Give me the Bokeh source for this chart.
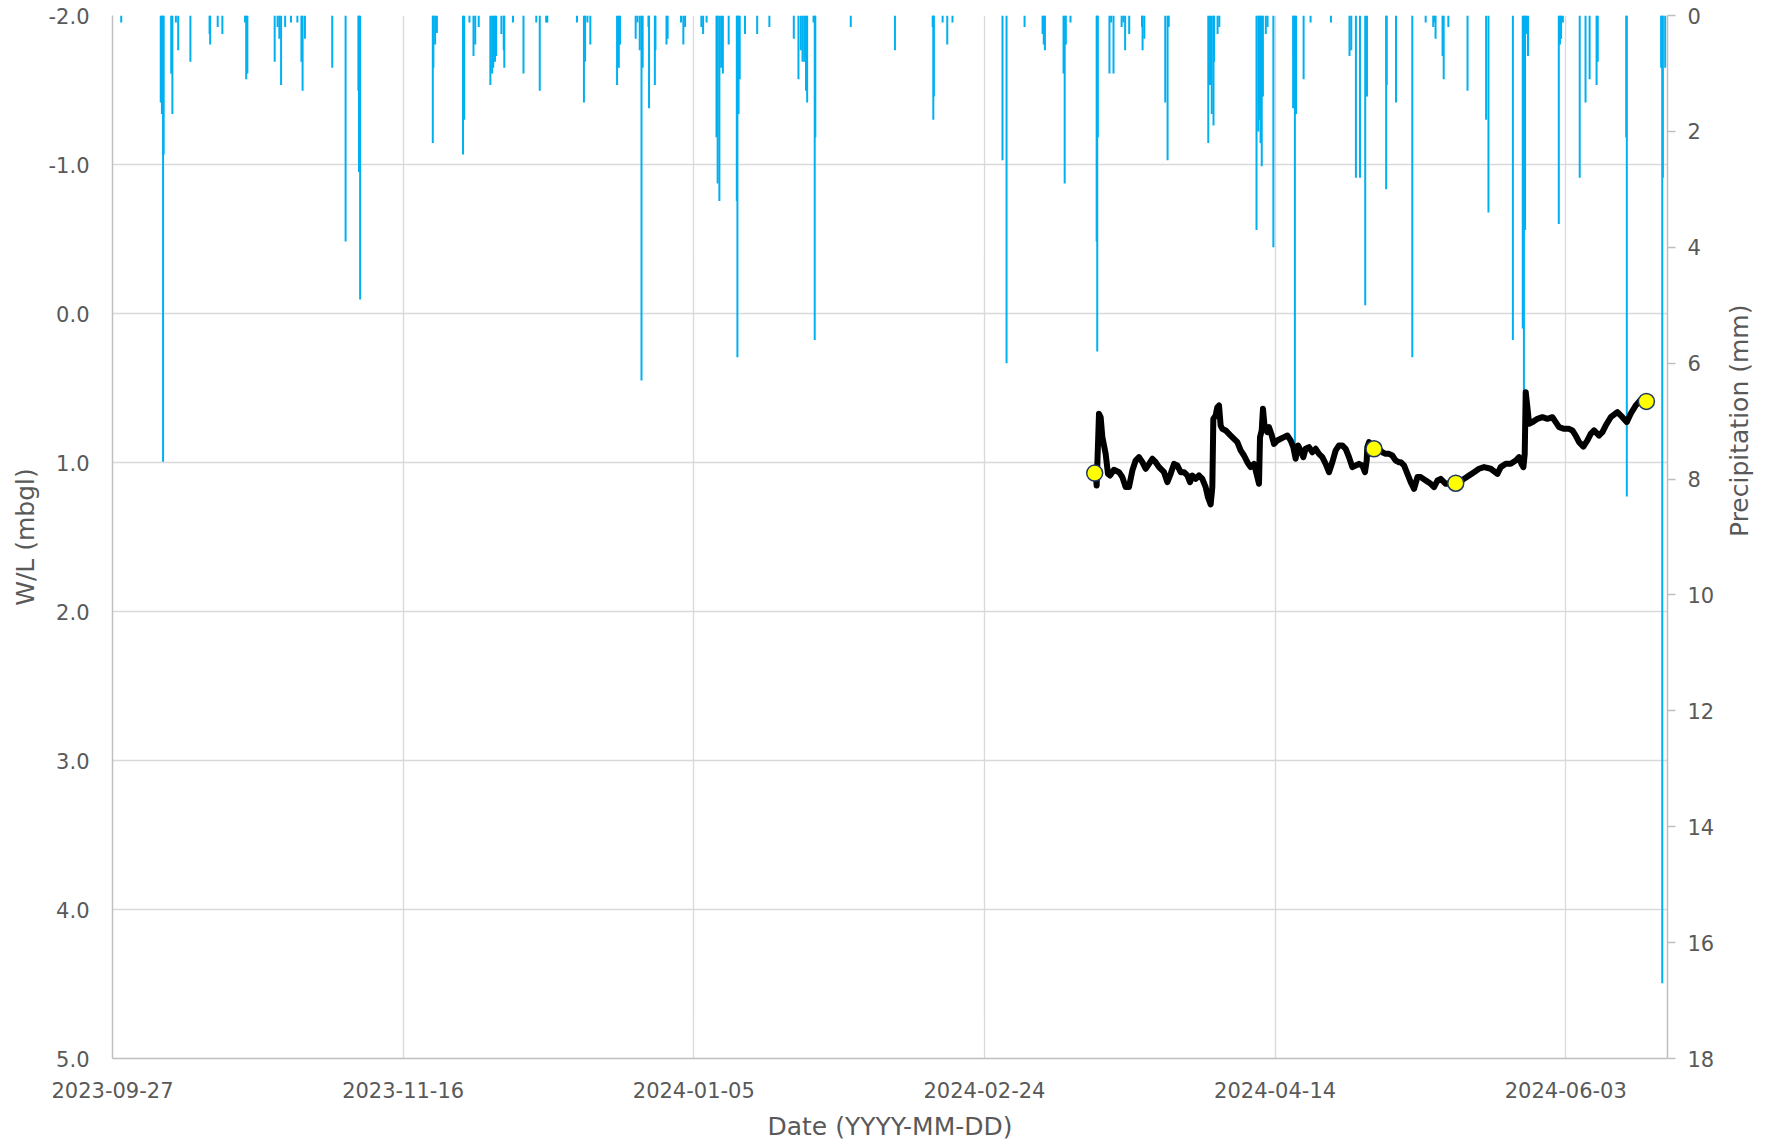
import math
import pandas as pd
from bokeh.plotting import figure
from bokeh.models import (Range1d, LinearAxis, FixedTicker, DatetimeTickFormatter,
                          PrintfTickFormatter, ColumnDataSource)
from bokeh.embed import file_html
from bokeh.resources import INLINE

# ---------------- data ----------------
origin = "2023-09-27"
x_end_days = 267.5
date_ticks = ["2023-09-27", "2023-11-16", "2024-01-05", "2024-02-24", "2024-04-14", "2024-06-03"]
wl_ticks = [-2, -1, 0, 1, 2, 3, 4, 5]
precip_ticks = [0, 2, 4, 6, 8, 10, 12, 14, 16, 18]

# continuous water level (days since origin, m below ground level)
wl_days = [168.96, 169.13, 169.30, 169.70, 169.99, 170.28, 170.85, 171.25, 171.60, 172.28, 173.15,
           173.72, 174.29, 174.86, 175.44, 176.01, 176.58, 177.16, 177.73, 178.31, 178.88, 179.45,
           180.03, 180.89, 181.46, 182.03, 182.61, 183.18, 183.75, 184.33, 184.90, 185.36, 185.76,
           186.33, 186.91, 187.48, 188.05, 188.45, 188.91, 189.20, 189.37, 189.77, 190.06, 190.35,
           190.63, 190.92, 191.49, 192.35, 192.93, 193.50, 194.07, 194.65, 195.22, 195.79, 196.37,
           196.94, 197.23, 197.40, 197.69, 197.91, 198.20, 198.66, 198.95, 199.35, 199.81, 200.38,
           200.95, 201.53, 202.10, 202.67, 203.13, 203.53, 203.94, 204.39, 204.85, 205.25, 205.83,
           206.40, 206.98, 207.55, 208.12, 208.70, 209.27, 209.84, 210.42, 210.99, 211.56, 212.14,
           212.71, 213.28, 213.86, 214.43, 215.00, 215.46, 215.75, 215.86, 216.15, 217.01, 217.87,
           218.44, 219.02, 219.59, 220.16, 220.74, 221.31, 221.61, 222.18, 222.76, 223.33, 223.90,
           224.48, 225.05, 225.91, 226.77, 227.34, 227.92, 228.49, 229.35, 231.07, 232.50, 233.36,
           234.22, 235.08, 235.94, 237.09, 238.24, 238.81, 239.67, 240.53, 241.39, 241.97, 242.37,
           242.71, 242.94, 243.11, 243.40, 243.69, 244.26, 245.12, 245.98, 246.84, 247.70, 248.27,
           248.85, 249.71, 250.57, 251.14, 251.71, 252.29, 253.03, 253.72, 254.29, 254.87, 255.73,
           256.30, 256.87, 257.73, 258.88, 259.74, 260.49, 261.17, 262.03, 262.90, 263.87]
wl_mbgl = [1.071, 1.076, 1.154, 0.673, 0.696, 0.830, 0.942, 1.076, 1.087, 1.049, 1.065,
           1.098, 1.165, 1.165, 1.054, 0.987, 0.964, 0.998, 1.042, 1.009, 0.975, 0.998,
           1.031, 1.065, 1.132, 1.076, 1.009, 1.020, 1.065, 1.065, 1.087, 1.132, 1.087,
           1.110, 1.087, 1.110, 1.165, 1.233, 1.282, 1.165, 0.707, 0.684, 0.629, 0.617,
           0.752, 0.774, 0.785, 0.819, 0.841, 0.863, 0.919, 0.953, 0.998, 1.031, 1.009,
           1.098, 1.143, 0.830, 0.785, 0.640, 0.763, 0.796, 0.763, 0.808, 0.875, 0.852,
           0.841, 0.830, 0.819, 0.852, 0.897, 0.975, 0.886, 0.919, 0.964, 0.908, 0.897,
           0.931, 0.908, 0.942, 0.964, 1.009, 1.065, 0.998, 0.919, 0.886, 0.886, 0.908,
           0.964, 1.031, 1.020, 1.009, 1.020, 1.065, 0.987, 0.897, 0.863, 0.908, 0.908,
           0.931, 0.942, 0.942, 0.953, 0.987, 0.998, 0.998, 1.020, 1.076, 1.132, 1.177,
           1.098, 1.098, 1.121, 1.143, 1.165, 1.121, 1.110, 1.143, 1.139, 1.110, 1.087,
           1.065, 1.042, 1.031, 1.042, 1.076, 1.031, 1.009, 1.009, 0.987, 0.964, 1.009,
           1.031, 0.942, 0.528, 0.629, 0.740, 0.729, 0.707, 0.696, 0.707, 0.696, 0.729,
           0.763, 0.774, 0.774, 0.785, 0.819, 0.863, 0.893, 0.852, 0.808, 0.785, 0.819,
           0.796, 0.752, 0.696, 0.662, 0.696, 0.729, 0.673, 0.617, 0.579, 0.590]

# manual water level measurements
manual_days = [168.96, 217.01, 231.07, 263.87]
manual_mbgl = [1.071, 0.908, 1.139, 0.590]

# precipitation (days since origin, mm)
rain_days = [1.5, 8.3, 8.5, 8.7, 8.8, 10.1, 10.3, 10.9, 11.3, 13.4, 16.7, 16.8, 18.1, 18.9, 22.8, 23.0,
             23.2, 27.9, 28.4, 28.7, 29.0, 29.7, 30.7, 31.8, 32.5, 32.7, 33.1, 37.8, 40.1, 42.3, 42.4,
             42.6, 55.1, 55.2, 55.5, 55.8, 60.3, 60.5, 61.4, 62.1, 62.4, 63.0, 65.0, 65.3, 65.5, 65.8,
             66.0, 66.9, 67.3, 67.4, 68.9, 70.7, 72.9, 73.5, 74.6, 74.8, 79.9, 81.1, 81.3, 81.7, 82.2,
             86.8, 87.1, 87.3, 90.0, 90.3, 90.7, 91.0, 91.2, 92.2, 92.3, 93.3, 93.4, 95.3, 95.5, 97.8,
             98.2, 98.5, 101.3, 101.6, 102.2, 103.9, 104.1, 104.4, 104.7, 105.0, 106.0, 107.4, 107.5,
             107.7, 107.9, 108.8, 110.9, 113.0, 117.2, 118.0, 118.4, 118.7, 119.0, 119.3, 119.5, 120.6,
             120.8, 120.9, 127.0, 134.6, 141.1, 141.2, 141.3, 142.8, 143.6, 144.5, 153.1, 153.8, 156.9,
             160.0, 160.2, 160.4, 163.6, 163.8, 164.0, 164.8, 169.3, 169.4, 169.5, 171.5, 171.8, 172.2,
             173.6, 173.9, 174.2, 174.9, 177.1, 177.2, 177.5, 181.1, 181.5, 181.7, 188.5, 188.8, 189.1,
             189.4, 189.5, 190.1, 190.4, 196.8, 197.1, 197.3, 197.5, 197.7, 197.9, 198.4, 198.7, 199.7,
             203.1, 203.2, 203.4, 203.6, 204.9, 206.1, 209.6, 212.8, 213.1, 213.9, 214.6, 215.5, 215.8,
             219.1, 219.2, 220.8, 223.6, 225.9, 227.2, 227.4, 227.6, 228.8, 229.0, 229.8, 233.1, 236.3,
             236.7, 240.9, 242.6, 242.8, 243.0, 243.2, 243.5, 248.8, 249.0, 249.2, 249.5, 252.4, 253.4,
             254.1, 255.3, 255.5, 260.4, 260.5, 266.4, 266.6, 266.7, 267.1]
rain_mm = [0.12, 1.5, 1.7, 7.7, 2.4, 1.0, 1.7, 0.12, 0.6, 0.8, 0.32, 0.5, 0.2, 0.32, 0.12, 1.1,
           1.0, 0.8, 0.2, 0.4, 1.2, 0.2, 0.12, 0.12, 0.8, 1.3, 0.4, 0.9, 3.9, 1.3, 2.7,
           4.9, 2.2, 0.9, 0.5, 0.3, 2.4, 1.8, 0.12, 0.7, 0.5, 0.2, 1.2, 1.0, 0.9, 0.8,
           0.7, 0.32, 0.6, 0.9, 0.12, 1.0, 0.12, 1.3, 0.12, 0.12, 0.12, 1.5, 0.8, 0.12, 0.5,
           1.2, 0.9, 0.5, 0.4, 0.12, 0.6, 6.3, 0.9, 0.2, 1.6, 1.2, 0.6, 0.5, 0.4, 0.12,
           0.5, 0.2, 0.2, 0.32, 0.12, 2.1, 2.9, 3.2, 0.9, 1.0, 0.5, 3.2, 5.9,
           1.7, 1.1, 0.32, 0.32, 0.2, 0.4, 1.1, 0.6, 0.8, 0.8, 1.3, 1.5, 0.12,
           5.6, 2.1, 0.2, 0.6, 0.2, 1.8, 1.4, 0.12, 0.5, 0.12, 2.5, 6.0, 0.2,
           0.32, 0.5, 0.6, 1.0, 2.9, 0.5, 0.12, 3.9, 5.8, 2.1, 1.0, 0.12, 1.0,
           0.2, 0.12, 0.6, 0.32, 0.2, 0.6, 0.4, 1.5, 2.5, 0.2, 2.2, 1.2, 1.7,
           1.9, 0.8, 0.32, 0.2, 3.7, 2.0, 1.8, 2.2, 2.6, 1.4, 0.32, 0.2, 4.0,
           1.6, 0.7, 7.4, 1.7, 1.1, 0.12, 0.12, 0.7, 0.6, 2.8, 2.8, 5.0, 1.4,
           3.0, 1.2, 1.5, 5.9, 0.12, 0.2, 0.12, 0.4, 0.7, 1.1, 0.2, 1.3, 1.8,
           3.4, 5.6, 5.4, 6.5, 3.7, 0.32, 0.7, 3.6, 0.5, 0.4, 0.12, 2.8, 1.5,
           1.1, 1.2, 0.8, 2.1, 8.3, 0.9, 16.7, 2.8, 0.9]

# ---------------- build ----------------
FONT = "DejaVu Sans"
TXT = "#595959"
AXC = "#bfbfbf"
GRIDC = "#d9d9d9"
BLUE = "#00b0f0"

t0 = pd.Timestamp(origin)
to_dt = lambda d: t0 + pd.to_timedelta(pd.Series(d, dtype=float), unit="D")

rain = ColumnDataSource(dict(x=to_dt(rain_days), top=rain_mm, base=[0.0] * len(rain_mm)))
wl = ColumnDataSource(dict(x=to_dt(wl_days), y=wl_mbgl))
man = ColumnDataSource(dict(x=to_dt(manual_days), y=manual_mbgl))

p = figure(width=1772, height=1147, x_axis_type="datetime",
           x_range=Range1d(t0, t0 + pd.Timedelta(days=x_end_days)),
           y_range=Range1d(5, -2),
           output_backend="svg", toolbar_location=None,
           min_border_left=112, min_border_right=105, min_border_top=15, min_border_bottom=89)
p.extra_y_ranges = {"precip": Range1d(18, 0)}
p.outline_line_color = None
p.background_fill_color = "white"

# precipitation bars hanging from the top
p.segment(x0="x", y0="base", x1="x", y1="top", source=rain, y_range_name="precip",
          line_color=BLUE, line_width=2)

# water level
p.line("x", "y", source=wl, line_color="black", line_width=6, line_join="round")
p.scatter("x", "y", source=man, size=16, fill_color="#ffff00", line_color="#1f3864", line_width=1.5)

# x axis
xa = p.xaxis[0]
xa.ticker = FixedTicker(ticks=[pd.Timestamp(d).value / 1e6 for d in date_ticks])
fmt = "%Y-%m-%d"
xa.formatter = DatetimeTickFormatter(days=fmt, months=fmt, years=fmt, hours=fmt, minutes=fmt,
                                     seconds=fmt, milliseconds=fmt, microseconds=fmt, hourmin=fmt,
                                     minsec=fmt)
xa.axis_label = "Date (YYYY-MM-DD)"

# left axis
ya = p.yaxis[0]
ya.ticker = FixedTicker(ticks=wl_ticks)
ya.formatter = PrintfTickFormatter(format="%.1f")
ya.axis_label = "W/L (mbgl)"

# right axis
ra = LinearAxis(y_range_name="precip", ticker=FixedTicker(ticks=precip_ticks),
                axis_label="Precipitation (mm)")
p.add_layout(ra, "right")

for ax in (xa, ya, ra):
    ax.axis_line_color = AXC
    ax.axis_line_width = 1.5
    ax.major_tick_line_color = AXC
    ax.major_tick_line_width = 1.5
    ax.minor_tick_line_color = None
    ax.major_tick_in = 0
    ax.major_tick_out = 0
    ax.major_label_text_font = FONT
    ax.major_label_text_font_size = "21px"
    ax.major_label_text_color = TXT
    ax.axis_label_text_font = FONT
    ax.axis_label_text_font_size = "25px"
    ax.axis_label_text_font_style = "normal"
    ax.axis_label_text_color = TXT

# right-hand title reads bottom-to-top, as in the reference
try:
    ra.axis_label_orientation = math.pi / 2
except Exception:
    pass

ra.major_tick_out = 8
xa.major_label_standoff = 23
xa.axis_label_standoff = 11
ya.major_label_standoff = 23
ya.axis_label_standoff = 6
ra.major_label_standoff = 12
ra.axis_label_standoff = 22

p.xgrid.grid_line_color = GRIDC
p.xgrid.grid_line_width = 1.3
p.ygrid.grid_line_color = GRIDC
p.ygrid.grid_line_width = 1.3

open("out.html", "w").write(file_html(p, INLINE))
